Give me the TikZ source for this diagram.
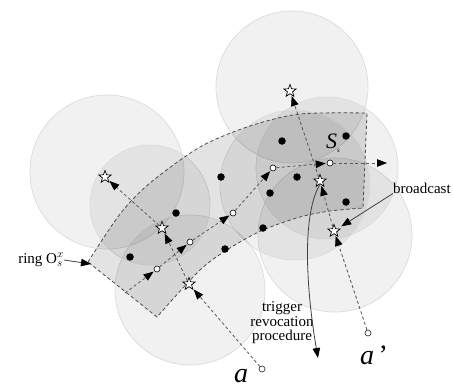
\documentclass[tikz,border=0pt]{standalone}
\usepackage{fontspec}
\setmainfont{Liberation Serif}
\usetikzlibrary{shapes.geometric,arrows.meta}
\begin{document}
\begin{tikzpicture}[x=1pt,y=-1pt,
  zone/.style={fill=black, fill opacity=0.055, draw=black!14, line width=0.7pt},
  band/.style={fill=black, fill opacity=0.11, draw=black!70, line width=0.8pt, dash pattern=on 3.5pt off 2.5pt},
  hop/.style={draw=black!65, line width=0.8pt, dash pattern=on 3pt off 2.5pt, -{Triangle[length=10pt,width=7.5pt,color=black]}, shorten >=1pt},
  solidarrow/.style={draw=black!75, line width=0.8pt, -{Triangle[length=10pt,width=7.5pt,color=black]}},
  starnode/.style={star, star points=5, star point ratio=2.4, draw=black, fill=white, minimum size=13pt, inner sep=0pt, line width=0.7pt},
  relay/.style={circle, draw=black, fill=white, minimum size=6pt, inner sep=0pt, line width=0.6pt},
  dotnode/.style={circle, fill=black, minimum size=7.5pt, inner sep=0pt},
  srcnode/.style={circle, draw=black!75, fill=white, minimum size=6pt, inner sep=0pt, line width=0.7pt},
  lab/.style={font=\fontsize{15}{14.5}\selectfont, inner sep=0pt}
]
\useasboundingbox (0,0) rectangle (453,388);
\fill[white] (0,0) rectangle (453,388);

% radio ranges
\draw[zone] (107,172) circle[radius=77];
\draw[zone] (292,87) circle[radius=76];
\draw[zone] (190,290) circle[radius=75];
\draw[zone] (335,235) circle[radius=77];
\draw[zone] (327,168) circle[radius=71];
\draw[zone] (295,185) circle[radius=75];
\draw[zone] (150,205) circle[radius=60];

% ring band
\draw[band] plot[smooth] coordinates {(88,262) (120,214) (150,183) (200,147) (250,126) (300,114) (367,113)}
  -- (363,208)
  -- plot[smooth] coordinates {(363,208) (330,211) (300,217) (263,230) (230,248) (200,270) (157,317)}
  -- cycle;

% stars
\node[starnode] (st1) at (105,177) {};
\node[starnode] (st2) at (162,228) {};
\node[starnode] (st3) at (189,284) {};
\node[starnode] (st4) at (290,91) {};
\node[starnode] (st5) at (320,181) {};
\node[starnode] (st6) at (334,231) {};

% relays on ring path
\node[relay] (w1) at (157,269) {};
\node[relay] (w2) at (190,242) {};
\node[relay] (w3) at (233,213) {};
\node[relay] (w4) at (273,168) {};
\node[relay] (w5) at (330,163) {};
\coordinate (a0) at (125,293);
\coordinate (aend) at (388,163);

% other nodes
\node[dotnode] (d1) at (130,257) {};
\node[dotnode] (d2) at (176,213) {};
\node[dotnode] (d3) at (221,177) {};
\node[dotnode] (d4) at (225,249) {};
\node[dotnode] (d5) at (263,228) {};
\node[dotnode] (d6) at (270,193) {};
\node[dotnode] (d7) at (282,141) {};
\node[dotnode] (d8) at (297,177) {};
\node[dotnode] (d9) at (346,136) {};
\node[dotnode] (d10) at (346,202) {};

% sources
\node[srcnode] (a) at (262,369) {};
\node[srcnode] (ap) at (368,333) {};
\node[font=\fontsize{28}{28}\selectfont\itshape, inner sep=0pt] (alab) at (241,376) {a};
\node[font=\fontsize{28}{28}\selectfont\itshape, inner sep=0pt] (aplab) at (374,355) {a\,\upshape'};

% ring path
\draw[hop] (a0) -- (w1);
\draw[hop] (w1) -- (w2);
\draw[hop] (w2) -- (w3);
\draw[hop] (w3) -- (w4);
\draw[hop] (w4) -- (w5);
\draw[hop] (w5) -- (aend);

% attack paths
\draw[hop] (a) -- (st3);
\draw[hop] (st3) -- (st2);
\draw[hop] (st2) -- (st1);
\draw[hop] (ap) -- (st6);
\draw[hop] (st6) -- (st5);
\draw[hop] (st5) -- (st4);

% labels
\node[font=\fontsize{22}{22}\selectfont\itshape, inner sep=0pt] (slab) at (333,143) {S\raisebox{-4pt}{\fontsize{7}{7}\selectfont s}};
\node[lab, anchor=west] (bc) at (393,188) {broadcast};
\draw[solidarrow, shorten >=4pt] (bc.south west) -- (st6);
\node[lab, anchor=east] (ring) at (64,260) {ring O$^{x}_{s}$};
\coordinate (corner) at (91,264);
\draw[solidarrow] (ring.east) -- (corner);
\node[lab, align=center] (trig) at (282,323) {trigger\\revocation\\procedure};
\coordinate (trigend) at (318,358);
\draw[solidarrow] (st5.south) .. controls (300,218) and (308,300) .. (trigend);
\end{tikzpicture}
\end{document}
